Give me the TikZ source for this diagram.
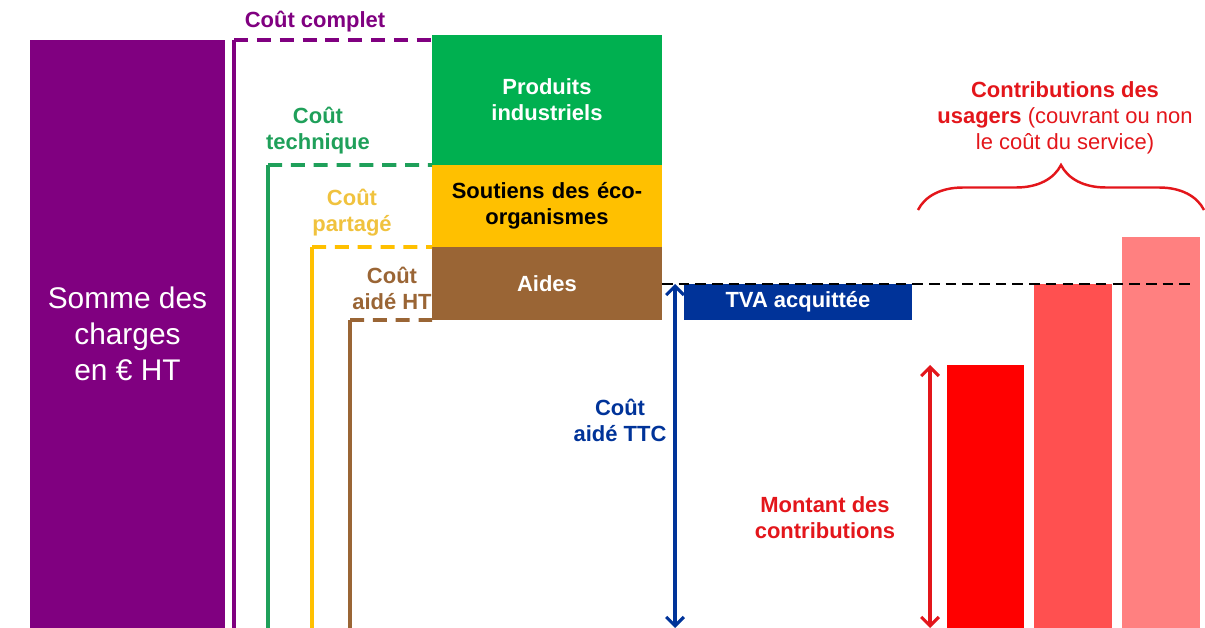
\documentclass[tikz,border=0pt]{standalone}
\usepackage{fontspec}
\setmainfont{Liberation Sans}
\usepackage{xcolor}
\usetikzlibrary{positioning,arrows.meta,decorations.pathreplacing}
\definecolor{violet}{HTML}{800080}
\definecolor{vert}{HTML}{00B050}
\definecolor{jaune}{HTML}{FFC000}
\definecolor{brun}{HTML}{9A6535}
\definecolor{bleu}{HTML}{003399}
\definecolor{rouge}{HTML}{FF0000}
\definecolor{rougeb}{HTML}{FF5050}
\definecolor{rougec}{HTML}{FF8080}
\definecolor{txtvert}{HTML}{1FA05A}
\definecolor{txtjaune}{HTML}{F0C23E}
\definecolor{txtrouge}{HTML}{E3161B}

\begin{document}
\begin{tikzpicture}[x=0.02cm,y=-0.02cm,
          font=\fontsize{12.5}{14.8}\selectfont\bfseries,
          node distance=0pt,
          block/.style={anchor=north west,inner sep=0pt,outer sep=0pt,
            minimum width=4.6cm,align=center,text width=4.4cm},
          bar/.style={anchor=north west,inner sep=0pt,outer sep=0pt,minimum height=#1},
          lbl/.style={align=center},
          frame/.style={line width=2.2pt},
          cut/.style={line width=2.2pt,dash pattern=on 8pt off 5pt},
          dim/.style={line width=1.8pt,{Straight Barb[length=5pt,width=10pt]}-{Straight Barb[length=5pt,width=10pt]}}]
  \useasboundingbox (0,0) rectangle (1205,628);

  % charges
  \node[bar=11.76cm,minimum width=3.9cm,fill=violet] (somme) at (30,40) {};
  \node[align=center,text=white,font=\fontsize{17}{20.5}\selectfont]
        (lsomme) at (somme.center) {Somme des\\charges\\en € HT};

  % pile des financements
  \node[block,minimum height=2.6cm,fill=vert,text=white] (produits) at (432,35)
        {Produits\\industriels};
  \node[block,minimum height=1.64cm,fill=jaune,below=of produits.south west,anchor=north west]
        (soutiens) {Soutiens des éco-\\organismes};
  \node[block,minimum height=1.46cm,fill=brun,text=white,below=of soutiens.south west,anchor=north west]
        (aides) {Aides};

  % niveaux de cout
  \coordinate (complet) at (234,40);
  \coordinate (technique) at (268,165);
  \coordinate (partage) at (312,247);
  \coordinate (aideht) at (350,320);
  \draw[cut,violet] (complet) -- (432,40);
  \draw[frame,violet] (complet) -- (234,628);
  \draw[cut,txtvert] (technique) -- (soutiens.north west);
  \draw[frame,txtvert] (technique) -- (268,628);
  \draw[cut,jaune] (partage) -- (aides.north west);
  \draw[frame,jaune] (partage) -- (312,628);
  \draw[cut,brun] (aideht) -- (aides.south west);
  \draw[frame,brun] (aideht) -- (350,628);

  \node[lbl,text=violet] (lcomplet) at (315,22) {Coût complet};
  \node[lbl,text=txtvert] (ltechnique) at (318,131) {Coût\\technique};
  \node[lbl,text=txtjaune] (lpartage) at (352,213) {Coût\\partagé};
  \node[lbl,text=brun] (laideht) at (392,288) {Coût\\aidé HT};

  % TVA
  \coordinate (ttchaut) at (675,284);
  \coordinate (ttcbas) at (675,628);
  \node[bar=0.72cm,minimum width=4.56cm,fill=bleu,text=white] (tva) at (684,284) {TVA acquittée};
  \draw[dim,bleu] (ttchaut) -- (ttcbas);
  \node[lbl,text=bleu] (lttc) at (620,420) {Coût\\aidé TTC};

  % contributions
  \node[bar=5.26cm,minimum width=1.54cm,fill=rouge] (barre1) at (947,365) {};
  \node[bar=6.88cm,minimum width=1.56cm,fill=rougeb] (barre2) at (1034,284) {};
  \node[bar=7.82cm,minimum width=1.56cm,fill=rougec] (barre3) at (1122,237) {};
  \draw[black,line width=1.5pt,dash pattern=on 6pt off 3.5pt] (aides.east |- ttchaut) -- (1195,284);
  \coordinate (mhaut) at (930,365);
  \coordinate (mbas) at (930,628);
  \draw[dim,txtrouge] (mhaut) -- (mbas);
  \node[lbl,text=txtrouge] (lmontant) at (825,518) {Montant des\\contributions};

  \coordinate (gauche) at (918,210);
  \coordinate (droite) at (1204,210);
  \draw[txtrouge,line width=1.4pt,decorate,decoration={brace,amplitude=0.9cm}]
        (gauche) -- (droite);
  \node[lbl,text=txtrouge] (lusagers) at (1065,118)
        {Contributions des\\usagers \mdseries(couvrant ou non\\\mdseries le coût du service)};
\end{tikzpicture}
\end{document}
